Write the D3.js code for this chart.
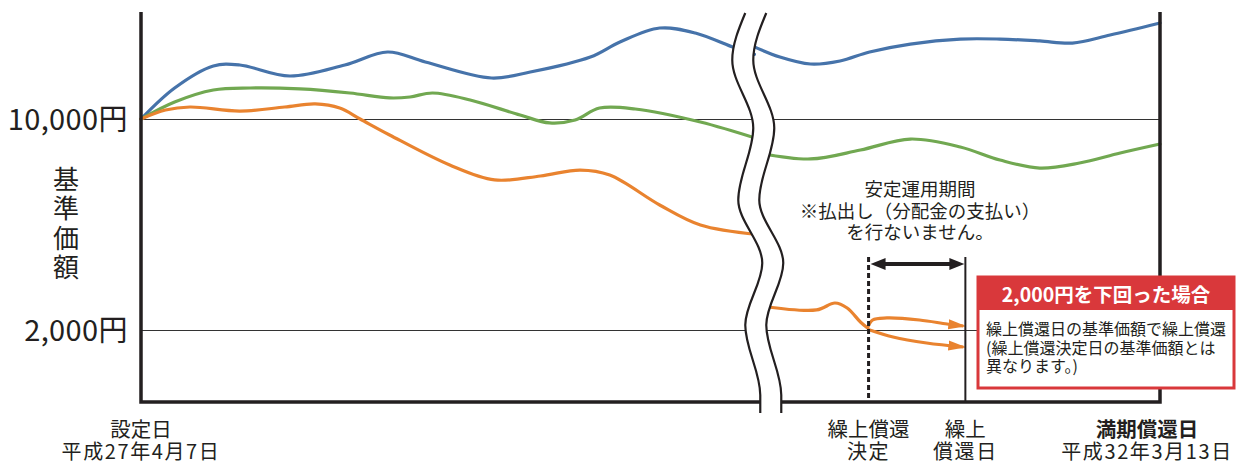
<!DOCTYPE html>
<html>
<head>
<meta charset="utf-8">
<script src="https://cdn.jsdelivr.net/npm/d3@7"></script>
<style>
  body { margin: 0; background: #fff; }
  svg { display: block; }
  text { font-family: "Noto Sans CJK JP", "Noto Sans", sans-serif; fill: #231f20; }
</style>
</head>
<body>
<svg id="chart" width="1238" height="465"></svg>
<script>
// --- data (x = schematic progress 0..100, y = 基準価額 in 円) ---
const navTicks = [10000, 2000]
const navTickLabels = ['10,000円', '2,000円']
const yTitle = '基準価額'

const blueBefore = [[0, 10000], [3.3, 11175], [7.1, 12010], [9.7, 12047], [14.6, 11630], [20.0, 12047],
  [24.2, 12540], [27.9, 12160], [34.4, 11555], [38.2, 11780], [44.1, 12350], [47.0, 12920],
  [50.9, 13450], [54.4, 13260], [58.3, 12690], [60.2, 12450]]
const blueAfter = [[59.8, 12800], [62.7, 12350], [65.7, 12085], [68.6, 12200], [71.5, 12540], [75.5, 12840],
  [80.4, 13030], [84.3, 13030], [88.2, 12960], [91.4, 12880], [95.1, 13185], [100, 13640]]

const greenBefore = [[0, 10000], [3.3, 10645], [7.1, 11100], [10.7, 11175], [15.6, 11140], [20.5, 10985],
  [24.4, 10800], [26.4, 10835], [28.6, 10985], [32.3, 10720], [37.2, 10150], [40.1, 9850],
  [42.6, 9960], [45.0, 10415], [48.5, 10380], [54.9, 9885], [60.5, 9250]]
const greenAfter = [[60.8, 8700], [65.7, 8485], [70.6, 8825], [75.5, 9240], [80.4, 8940], [84.3, 8445],
  [88.2, 8140], [92.1, 8330], [96.1, 8710], [100, 9050]]

const orangeBefore = [[0, 10000], [2.4, 10340], [4.8, 10455], [9.7, 10300], [14.1, 10455], [17.1, 10570],
  [19.5, 10415], [21.5, 10000], [24.4, 9395], [30.3, 8255], [34.7, 7690], [39.2, 7840],
  [43.1, 8065], [46.0, 7875], [50.9, 6740], [54.9, 5980], [60.5, 5620]]
const orangeAfter = [[61.0, 2900], [66.3, 2760], [68.1, 3024], [69.3, 2835], [70.6, 2304], [71.3, 2076]]
const orangeUpper = [[71.3, 2076], [71.8, 2380], [73.2, 2456], [76.4, 2380], [79.1, 2228], [80.7, 2152]]
const orangeLower = [[71.3, 2030], [73.8, 1735], [77.1, 1508], [80.7, 1356]]

const decisionT = 71.4      // 繰上償還決定
const redemptionT = 80.9    // 繰上償還日
const breakT = 59.3         // 省略 (wavy break)

const dateLabelT = [0, decisionT, redemptionT, 100]
const dateLine1 = ['設定日', '繰上償還', '繰上', '満期償還日']
const dateLine2 = ['平成27年4月7日', '決定', '償還日', '平成32年3月13日']

const noteLines = ['安定運用期間', '※払出し（分配金の支払い）', 'を行ないません。']
const boxTitle = '2,000円を下回った場合'
const boxLines = ['繰上償還日の基準価額で繰上償還', '(繰上償還決定日の基準価額とは', '異なります。)']

// --- layout ---
const plotLeft = 141
const plotRight = 1160
const plotTop = 12
const plotBottom = 402

const colors = { blue: '#4673aa', green: '#71a851', orange: '#e9832f', red: '#d9383b', ink: '#231f20' }

const svg = d3.select('#chart')

const x = d3.scaleLinear().domain([0, 100]).range([plotLeft, plotRight])
const y = d3.scaleLinear().domain([-730, 14057]).range([plotBottom, plotTop])

// reference lines + labels through the axis
const yAxis = d3.axisLeft(y)
  .tickValues(navTicks)
  .tickFormat((d, i) => navTickLabels[i])
  .tickSize(-(plotRight - plotLeft))
  .tickPadding(13)

const gy = svg.append('g')
  .attr('transform', `translate(${plotLeft},0)`)
  .call(yAxis)
gy.select('.domain').remove()
gy.selectAll('.tick line').attr('stroke', '#333').attr('stroke-width', 1.1)
gy.selectAll('.tick text')
  .attr('font-size', 29)
  .attr('letter-spacing', 0.4)
  .attr('font-family', '"Noto Sans CJK JP", sans-serif')
  .attr('fill', colors.ink)
  .attr('dy', '0.36em')

// y title, set vertically
svg.append('text')
  .attr('x', 66)
  .attr('y', 166)
  .attr('font-size', 26)
  .attr('letter-spacing', 3.5)
  .style('writing-mode', 'vertical-rl')
  .text(yTitle)

// series
const line = d3.line()
  .x(d => x(d[0]))
  .y(d => y(d[1]))
  .curve(d3.curveCatmullRom.alpha(0.5))

const series = [
  { data: blueBefore, color: colors.blue },
  { data: blueAfter, color: colors.blue },
  { data: greenBefore, color: colors.green },
  { data: greenAfter, color: colors.green },
  { data: orangeBefore, color: colors.orange },
  { data: orangeAfter, color: colors.orange }
]

svg.append('g')
  .selectAll('path')
  .data(series)
  .join('path')
  .attr('d', d => line(d.data))
  .attr('fill', 'none')
  .attr('stroke', d => d.color)
  .attr('stroke-width', 3.2)
  .attr('stroke-linecap', 'round')

// orange arrowhead marker
svg.append('defs').append('marker')
  .attr('id', 'orangeHead')
  .attr('markerUnits', 'userSpaceOnUse')
  .attr('viewBox', '0 -6 18 12')
  .attr('refX', 15)
  .attr('refY', 0)
  .attr('markerWidth', 18)
  .attr('markerHeight', 12)
  .attr('orient', 'auto')
  .append('path')
  .attr('d', 'M0,-5L18,0L0,5Z')
  .attr('fill', colors.orange)

svg.append('g')
  .selectAll('path')
  .data([orangeUpper, orangeLower])
  .join('path')
  .attr('d', d => line(d))
  .attr('fill', 'none')
  .attr('stroke', colors.orange)
  .attr('stroke-width', 3.2)
  .attr('marker-end', 'url(#orangeHead)')

// frame (left, bottom, right)
svg.append('path')
  .attr('d', `M${plotLeft},${plotTop}V${plotBottom}H${plotRight}V${plotTop}`)
  .attr('fill', 'none')
  .attr('stroke', colors.ink)
  .attr('stroke-width', 3.5)
  .attr('stroke-linejoin', 'miter')

// wavy break symbol
const wave = [[13, 0], [60, -13], [128, 8], [200, -7], [263, 17], [325, 0], [395, 15], [413, 15]]
const gap = 21
const bx = x(breakT)
const band = d3.area()
  .y(d => d[0])
  .x0(d => bx + d[1])
  .x1(d => bx + d[1] + gap)
  .curve(d3.curveMonotoneY)
svg.append('path').attr('d', band(wave)).attr('fill', '#fff')
const waveLine = d3.line().y(d => d[0]).curve(d3.curveMonotoneY)
svg.append('g')
  .selectAll('path')
  .data([0, gap])
  .join('path')
  .attr('d', off => waveLine.x(d => bx + d[1] + off)(wave))
  .attr('fill', 'none')
  .attr('stroke', colors.ink)
  .attr('stroke-width', 2.2)

// 繰上償還決定 / 繰上償還日 markers
const markTop = 257
svg.append('line')
  .attr('x1', x(decisionT)).attr('x2', x(decisionT))
  .attr('y1', markTop).attr('y2', plotBottom)
  .attr('stroke', colors.ink).attr('stroke-width', 3)
  .attr('stroke-dasharray', '5,3')
svg.append('line')
  .attr('x1', x(redemptionT)).attr('x2', x(redemptionT))
  .attr('y1', markTop).attr('y2', plotBottom)
  .attr('stroke', colors.ink).attr('stroke-width', 2)

// double-headed period arrow
const ay = 264
const ax0 = x(decisionT) + 2
const ax1 = x(redemptionT) - 1
const head = 15
svg.append('line')
  .attr('x1', ax0 + head - 2).attr('x2', ax1 - head + 2)
  .attr('y1', ay).attr('y2', ay)
  .attr('stroke', colors.ink).attr('stroke-width', 4)
svg.append('path')
  .attr('d', `M${ax0},${ay}L${ax0 + head},${ay - 6}L${ax0 + head},${ay + 6}Z` +
    `M${ax1},${ay}L${ax1 - head},${ay - 6}L${ax1 - head},${ay + 6}Z`)
  .attr('fill', colors.ink)

// note above the arrow
svg.append('text')
  .attr('text-anchor', 'middle')
  .attr('font-size', 18.5)
  .attr('fill', '#333')
  .selectAll('tspan')
  .data(noteLines)
  .join('tspan')
  .attr('x', (x(decisionT) + x(redemptionT)) / 2 + 3)
  .attr('y', (d, i) => 196 + i * 21.5)
  .text(d => d)

// red call-out box
const boxX0 = 978
const boxX1 = 1234
const boxY0 = 277
const boxY1 = 388
const hdr = 33
svg.append('rect')
  .attr('x', boxX0).attr('y', boxY0)
  .attr('width', boxX1 - boxX0).attr('height', boxY1 - boxY0)
  .attr('fill', '#fff')
  .attr('stroke', colors.red).attr('stroke-width', 3)
svg.append('rect')
  .attr('x', boxX0).attr('y', boxY0)
  .attr('width', boxX1 - boxX0).attr('height', hdr)
  .attr('fill', colors.red)
svg.append('text')
  .attr('x', (boxX0 + boxX1) / 2)
  .attr('y', boxY0 + hdr / 2 + 1)
  .attr('dy', '0.36em')
  .attr('text-anchor', 'middle')
  .attr('font-size', 19.5)
  .attr('font-weight', 'bold')
  .style('fill', '#fff')
  .text(boxTitle)
svg.append('text')
  .attr('font-size', 16)
  .attr('fill', '#333')
  .selectAll('tspan')
  .data(boxLines)
  .join('tspan')
  .attr('x', boxX0 + 8)
  .attr('y', (d, i) => 335 + i * 18.7)
  .text(d => d)

// date labels under the axis
const dateGroup = svg.append('g')
  .selectAll('g')
  .data(dateLabelT)
  .join('g')
  .attr('transform', (d, i) => `translate(${x(d) + (i === 3 ? -13 : 0)},0)`)
dateGroup.append('text')
  .attr('y', 430)
  .attr('dy', '0.36em')
  .attr('text-anchor', 'middle')
  .attr('font-size', 20.5)
  .attr('font-weight', (d, i) => i === 3 ? 'bold' : null)
  .text((d, i) => dateLine1[i])
dateGroup.append('text')
  .attr('y', 452)
  .attr('dy', '0.36em')
  .attr('text-anchor', 'middle')
  .attr('font-size', 20)
  .attr('letter-spacing', 1.6)
  .text((d, i) => dateLine2[i])
</script>
</body>
</html>
